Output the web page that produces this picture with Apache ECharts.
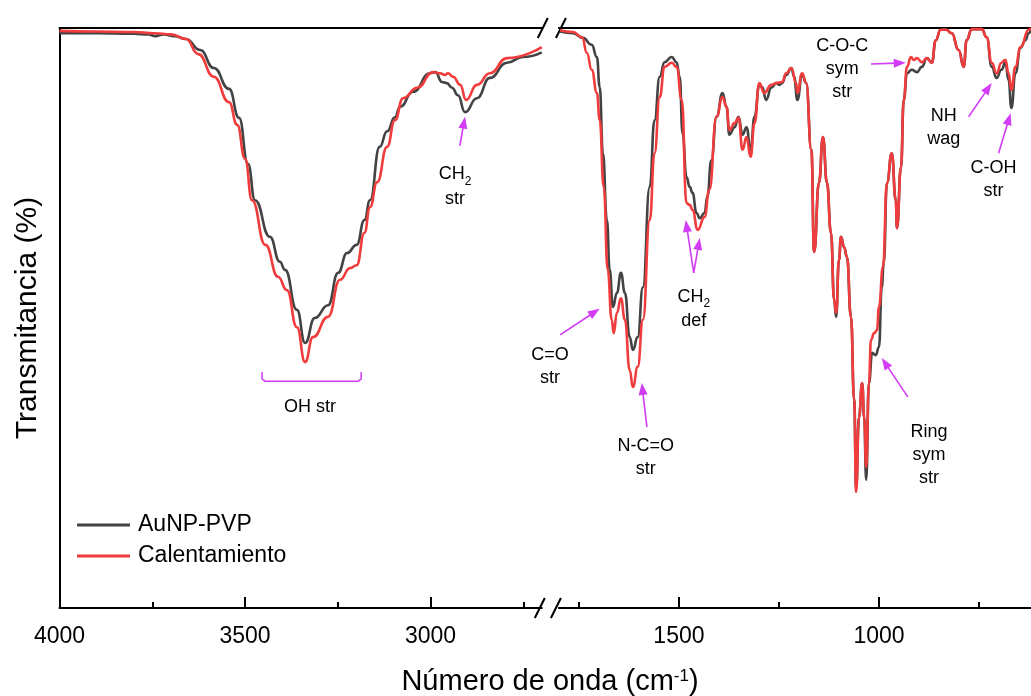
<!DOCTYPE html>
<html>
<head>
<meta charset="utf-8">
<script src="https://cdn.jsdelivr.net/npm/echarts@6/dist/echarts.min.js"></script>
<style>
  html, body { margin: 0; padding: 0; background: #ffffff; }
  #chart { width: 1031px; height: 696px; }
</style>
</head>
<body>
<div id="chart"></div>
<script>
// FTIR spectra, transmittance (%) against wavenumber (cm-1), shown with a broken axis.

// High-frequency window (4000 - 2700 cm-1)
const pvpHighWn = [4000, 3900, 3800, 3760, 3742, 3720, 3690, 3659, 3621, 3584, 3543, 3516, 3492, 3473, 3433, 3406, 3392, 3360, 3338, 3312, 3276, 3249, 3225, 3199, 3178, 3163, 3137, 3117, 3096, 3082, 3047, 3001, 2987, 2969, 2956, 2942, 2926, 2907, 2875, 2840, 2794, 2751, 2700];
const pvpHighT  = [99.1, 99.1, 99.0, 98.9, 98.6, 98.9, 98.6, 98.1, 96.2, 93.1, 89.5, 84.5, 76.6, 70.3, 64.0, 59.7, 58.3, 51.4, 45.7, 50.0, 52.2, 57.8, 61.2, 62.6, 66.9, 70.3, 79.5, 82.2, 84.6, 86.4, 89.0, 92.2, 92.4, 90.7, 90.5, 89.7, 88.4, 85.5, 87.9, 91.4, 94.0, 95.0, 95.8];

const heatHighWn = [4000, 3900, 3800, 3745, 3699, 3659, 3626, 3584, 3543, 3521, 3500, 3481, 3445, 3411, 3387, 3360, 3338, 3317, 3276, 3244, 3217, 3199, 3178, 3163, 3144, 3117, 3096, 3074, 3036, 2993, 2974, 2961, 2953, 2939, 2920, 2904, 2875, 2840, 2794, 2700];
const heatHighT  = [99.5, 99.4, 99.3, 99.1, 98.9, 98.1, 95.5, 91.6, 87.2, 83.3, 77.5, 70.3, 62.6, 57.1, 54.8, 48.4, 42.4, 46.7, 50.2, 56.6, 58.6, 59.1, 64.7, 69.1, 73.4, 79.5, 84.1, 87.9, 89.7, 92.4, 92.2, 91.9, 92.2, 91.6, 90.2, 87.6, 90.2, 92.2, 94.8, 96.7];

// Fingerprint window (1800 - 620 cm-1)
const pvpLowWn = [1797, 1765, 1740, 1718, 1705, 1698, 1690, 1680, 1673, 1665, 1655, 1645, 1635, 1623, 1615, 1603, 1590, 1573, 1561, 1548, 1536, 1518, 1506, 1498, 1491, 1481, 1473, 1466, 1456, 1448, 1436, 1429, 1419, 1406, 1391, 1381, 1374, 1361, 1351, 1341, 1331, 1321, 1311, 1299, 1292, 1282, 1269, 1257, 1249, 1242, 1232, 1219, 1212, 1204, 1192, 1182, 1169, 1162, 1150, 1140, 1130, 1120, 1112, 1107, 1100, 1095, 1087, 1080, 1070, 1062, 1057, 1050, 1042, 1037, 1032, 1025, 1017, 1008, 1000, 993, 988, 980, 968, 958, 955, 945, 938, 930, 918, 905, 893, 880, 868, 858, 846, 833, 818, 801, 788, 781, 768, 743, 731, 718, 706, 694, 684, 676, 669, 659, 646, 634, 626, 620];
const pvpLowT  = [99.4, 99.1, 98.3, 97.1, 95.0, 89.8, 78.4, 66.9, 58.3, 51.9, 54.3, 57.8, 54.3, 46.7, 44.5, 46.7, 55.3, 72.6, 84.1, 91.6, 94.1, 95.0, 94.1, 91.6, 81.9, 74.3, 72.6, 71.6, 68.1, 67.2, 68.1, 70.9, 77.2, 84.7, 88.8, 86.4, 81.6, 82.9, 84.7, 81.6, 82.9, 79.0, 84.7, 90.2, 89.8, 87.6, 89.7, 90.5, 90.2, 90.5, 91.9, 93.1, 91.6, 87.6, 91.9, 90.5, 79.0, 61.4, 73.3, 81.2, 73.3, 64.7, 53.1, 50.2, 60.0, 64.0, 62.2, 60.5, 50.2, 35.9, 20.7, 32.9, 38.8, 32.9, 22.1, 38.8, 44.0, 43.6, 45.0, 55.3, 59.5, 73.3, 78.4, 70.3, 65.5, 76.0, 87.6, 92.2, 92.8, 92.4, 93.3, 94.8, 94.0, 97.9, 99.7, 99.8, 99.1, 96.2, 93.3, 97.9, 99.8, 99.8, 98.4, 93.3, 91.4, 92.8, 94.0, 91.0, 86.2, 92.2, 96.6, 97.9, 99.1, 99.6];

const heatLowWn = [1797, 1765, 1742, 1730, 1718, 1705, 1698, 1688, 1678, 1668, 1663, 1655, 1645, 1635, 1623, 1615, 1603, 1590, 1573, 1561, 1548, 1536, 1518, 1506, 1493, 1481, 1473, 1466, 1453, 1436, 1424, 1406, 1391, 1381, 1374, 1361, 1351, 1341, 1331, 1321, 1311, 1299, 1287, 1269, 1257, 1242, 1232, 1219, 1207, 1204, 1192, 1182, 1169, 1162, 1150, 1140, 1130, 1120, 1112, 1107, 1100, 1095, 1087, 1080, 1070, 1062, 1057, 1050, 1042, 1037, 1032, 1025, 1020, 1012, 1005, 1000, 990, 980, 968, 958, 955, 945, 938, 930, 920, 913, 905, 893, 880, 868, 858, 846, 833, 818, 801, 788, 781, 768, 743, 731, 718, 706, 694, 684, 676, 669, 659, 646, 626, 620];
const heatLowT  = [99.6, 99.3, 98.4, 95.7, 92.8, 88.8, 84.1, 72.6, 58.3, 49.7, 47.4, 50.9, 53.4, 49.7, 41.0, 38.1, 41.6, 49.7, 66.9, 78.4, 88.1, 93.3, 94.0, 93.3, 87.6, 69.8, 69.5, 68.6, 65.2, 67.4, 72.1, 84.7, 88.1, 86.4, 82.4, 83.6, 84.5, 79.0, 81.2, 77.8, 83.6, 90.5, 88.8, 90.2, 90.5, 90.7, 92.2, 93.1, 90.5, 88.8, 92.2, 90.5, 79.0, 61.4, 73.3, 81.2, 73.3, 64.7, 53.1, 50.9, 60.0, 64.0, 62.2, 60.5, 50.2, 35.9, 20.0, 32.9, 38.8, 32.9, 24.3, 38.8, 46.2, 47.4, 47.9, 51.9, 58.8, 73.3, 78.4, 70.3, 65.5, 76.0, 87.6, 93.3, 95.0, 94.5, 94.8, 94.1, 94.8, 94.0, 97.9, 99.7, 99.7, 99.1, 96.2, 93.3, 97.9, 99.8, 99.8, 98.4, 94.0, 92.2, 94.0, 94.5, 92.2, 89.3, 93.3, 96.7, 99.7, 100.0];

// Axis ranges and tick values of the two windows
const highRange = [2700, 4000];
const lowRange  = [620, 1800];
const highMajor = [3000, 3500, 4000];
const highMinor = [2750, 3250, 3750];
const lowMajor  = [1000, 1500];
const lowMinor  = [750, 1250, 1750];

const seriesNames = ['AuNP-PVP', 'Calentamiento'];

// Band assignments: text anchors and arrows in (wavenumber, T) units; window 0 = high, 1 = low
const bandLabels = [
  { win: 0, at: [2934, 72.8], text: 'CH{s|2}\nstr' },
  { win: 0, at: [3325, 34.7], text: 'OH str' },
  { win: 1, at: [1822, 41.6], text: 'C=O\nstr' },
  { win: 1, at: [1583, 26.0], text: 'N-C=O\nstr' },
  { win: 1, at: [1463, 51.7], text: 'CH{s|2}\ndef' },
  { win: 1, at: [1092, 92.9], text: 'C-O-C\nsym\nstr' },
  { win: 1, at: [838, 82.8],  text: 'NH\nwag' },
  { win: 1, at: [713.5, 73.8], text: 'C-OH\nstr' },
  { win: 1, at: [875, 26.4],  text: 'Ring\nsym\nstr' }
];
const bandArrows = [
  { win: 0, from: [2921, 79.7], to: [2907, 84.7] },
  { win: 1, from: [1797, 47.1], to: [1698, 51.6] },
  { win: 1, from: [1580, 31.2], to: [1593, 38.8] },
  { win: 1, from: [1463, 57.8], to: [1483, 66.9] },
  { win: 1, from: [1463, 57.8], to: [1448, 63.8] },
  { win: 1, from: [1020, 93.8], to: [933, 94.0] },
  { win: 1, from: [776, 84.7],  to: [718.5, 90.5] },
  { win: 1, from: [701, 78.4],  to: [671, 85.3] },
  { win: 1, from: [928, 36.4],  to: [993, 43.1] }
];
// OH stretching bracket: wavenumber span and its top / bottom level
const ohBracket = { win: 0, span: [3454, 3187], top: 40.7, bottom: 39.1 };

const FONT = 'Arial, "Liberation Sans", sans-serif';
const DARK = '#434343';
const RED = '#f03c3c';
const NOTE = '#d23cf5';

const pairs = (wn, t) => wn.map((w, i) => [w, t[i]]);

const chart = echarts.init(document.getElementById('chart'), null, { renderer: 'canvas' });

function mainAxis(grid, range, ticks) {
  return {
    gridIndex: grid, type: 'value', min: range[0], max: range[1], inverse: true, position: 'bottom',
    axisLine: { show: true, onZero: false, lineStyle: { color: '#000', width: 2 } },
    axisTick: { show: true, inside: true, length: 11, customValues: ticks, lineStyle: { color: '#000', width: 2 } },
    axisLabel: { show: true, customValues: ticks, fontSize: 23, color: '#000', fontFamily: FONT, margin: 17,
                 formatter: v => String(v) },
    splitLine: { show: false }
  };
}
function minorAxis(grid, range, ticks) {
  return {
    gridIndex: grid, type: 'value', min: range[0], max: range[1], inverse: true, position: 'bottom',
    axisLine: { show: false },
    axisTick: { show: true, inside: true, length: 6, customValues: ticks, lineStyle: { color: '#000', width: 2 } },
    axisLabel: { show: false },
    splitLine: { show: false }
  };
}
function topAxis(grid, range) {
  return {
    gridIndex: grid, type: 'value', min: range[0], max: range[1], inverse: true, position: 'top',
    axisLine: { show: true, onZero: false, lineStyle: { color: '#000', width: 2 } },
    axisTick: { show: false }, axisLabel: { show: false }, splitLine: { show: false }
  };
}
function spectrum(name, color, win, data) {
  return {
    name, type: 'line', xAxisIndex: win, yAxisIndex: win, data,
    symbol: 'none', smooth: 0.5, smoothMonotone: 'x',
    lineStyle: { color, width: 2.6 }, itemStyle: { color },
    emphasis: { disabled: true }, z: color === RED ? 3 : 2
  };
}

chart.setOption({
  animation: false,
  backgroundColor: '#ffffff',
  grid: [
    { left: 59.5, top: 28, width: 482.3, height: 580 },
    { left: 558.9, top: 28, width: 473.7, height: 580 }
  ],
  xAxis: [
    mainAxis(0, highRange, highMajor),
    mainAxis(1, lowRange, lowMajor),
    minorAxis(0, highRange, highMinor),
    minorAxis(1, lowRange, lowMinor),
    topAxis(0, highRange),
    topAxis(1, lowRange)
  ],
  yAxis: [
    { gridIndex: 0, type: 'value', min: 0, max: 100,
      axisLine: { show: true, lineStyle: { color: '#000', width: 2 } },
      axisTick: { show: false }, axisLabel: { show: false }, splitLine: { show: false } },
    { gridIndex: 1, type: 'value', min: 0, max: 100, show: false, splitLine: { show: false } }
  ],
  legend: {
    data: seriesNames, orient: 'vertical', left: 77, top: 513, padding: 0,
    icon: 'rect', itemWidth: 53, itemHeight: 3, itemGap: 7,
    textStyle: { fontSize: 23, fontFamily: FONT, color: '#000', lineHeight: 24, padding: [0, 0, 0, 3] }
  },
  series: [
    spectrum(seriesNames[0], DARK, 0, pairs(pvpHighWn, pvpHighT)),
    spectrum(seriesNames[0], DARK, 1, pairs(pvpLowWn, pvpLowT)),
    spectrum(seriesNames[1], RED, 0, pairs(heatHighWn, heatHighT)),
    spectrum(seriesNames[1], RED, 1, pairs(heatLowWn, heatLowT))
  ]
});

// Annotations, axis titles and break marks
const toPx = (win, p) => chart.convertToPixel({ xAxisIndex: win, yAxisIndex: win }, p);
const g = [];

const noteRich = {
  s: { fontSize: 12, fontFamily: FONT, fill: '#000', verticalAlign: 'bottom', lineHeight: 26 }
};
bandLabels.forEach(l => {
  const [x, y] = toPx(l.win, l.at);
  g.push({
    type: 'text', x, y, silent: true,
    style: { text: l.text, font: '18px ' + FONT, fill: '#000', textAlign: 'center',
             textVerticalAlign: 'middle', lineHeight: 23, rich: noteRich }
  });
});

bandArrows.forEach(a => {
  const [x1, y1] = toPx(a.win, a.from);
  const [x2, y2] = toPx(a.win, a.to);
  const dx = x2 - x1, dy = y2 - y1, len = Math.hypot(dx, dy);
  const ux = dx / len, uy = dy / len;
  const head = 12, half = 4.5;
  const bx = x2 - ux * head, by = y2 - uy * head;
  g.push({ type: 'line', silent: true,
    shape: { x1, y1, x2: bx + ux * 2, y2: by + uy * 2 },
    style: { stroke: NOTE, lineWidth: 1.6 } });
  g.push({ type: 'polygon', silent: true,
    shape: { points: [[x2, y2], [bx - uy * half, by + ux * half], [bx + uy * half, by - ux * half]] },
    style: { fill: NOTE } });
});

{
  const [xa, ya] = toPx(ohBracket.win, [ohBracket.span[0], ohBracket.top]);
  const [xb, yb] = toPx(ohBracket.win, [ohBracket.span[1], ohBracket.bottom]);
  g.push({ type: 'polyline', silent: true,
    shape: { points: [[xa, ya], [xa, yb - 2], [xa + 3, yb], [xb - 3, yb], [xb, yb - 2], [xb, ya]] },
    style: { stroke: NOTE, lineWidth: 1.5, fill: null } });
}

// Axis break marks at the bottom and top edges
{
  const [leftEnd, yBottom] = toPx(0, [highRange[0], 0]);
  const [, yTop] = toPx(0, [highRange[0], 100]);
  const [rightStart] = toPx(1, [lowRange[1], 0]);
  [[leftEnd - 2, yBottom], [rightStart - 3, yBottom], [leftEnd + 1, yTop], [rightStart + 2, yTop]].forEach(([cx, cy]) => {
    g.push({ type: 'line', silent: true,
      shape: { x1: cx - 5, y1: cy + 10, x2: cx + 5, y2: cy - 10 },
      style: { stroke: '#000', lineWidth: 2 } });
  });
}

g.push({
  type: 'text', x: 550, y: 682, silent: true,
  style: { text: 'Número de onda (cm{sup|-1})', font: '29px ' + FONT, fill: '#000',
           textAlign: 'center', textVerticalAlign: 'middle',
           rich: { sup: { fontSize: 17, fontFamily: FONT, fill: '#000', verticalAlign: 'top' } } }
});
g.push({
  type: 'text', x: 28, y: 318, rotation: Math.PI / 2, silent: true,
  style: { text: 'Transmitancia (%)', font: '30px ' + FONT, fill: '#000',
           textAlign: 'center', textVerticalAlign: 'middle' }
});

chart.setOption({ graphic: g });
</script>
</body>
</html>
